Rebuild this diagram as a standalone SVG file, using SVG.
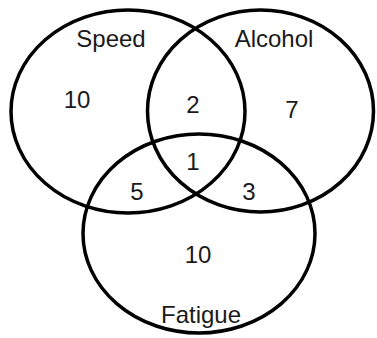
<svg xmlns="http://www.w3.org/2000/svg" width="377" height="338" viewBox="0 0 377 338">
<style>
.c{fill:none;stroke:#000;stroke-width:3.5}
.t{font-family:"Liberation Sans",Arial,sans-serif;font-size:24px;fill:#1a1a1a;text-anchor:middle}
</style>
<rect width="377" height="338" fill="#fff"/>
<g id="speed"><ellipse class="c" cx="128" cy="111.5" rx="117" ry="101.5"/><text class="t" x="111" y="47">Speed</text></g>
<g id="alcohol"><ellipse class="c" cx="260.5" cy="111" rx="113" ry="101"/><text class="t" x="274" y="47">Alcohol</text></g>
<g id="fatigue"><ellipse class="c" cx="199" cy="233.5" rx="116" ry="99.5"/><text class="t" x="201" y="323">Fatigue</text></g>
<g id="counts">
<text class="t" x="77" y="108">10</text>
<text class="t" x="292" y="118">7</text>
<text class="t" x="193" y="113">2</text>
<text class="t" x="193" y="170">1</text>
<text class="t" x="137" y="200">5</text>
<text class="t" x="249" y="200">3</text>
<text class="t" x="198" y="263">10</text>
</g>
</svg>
